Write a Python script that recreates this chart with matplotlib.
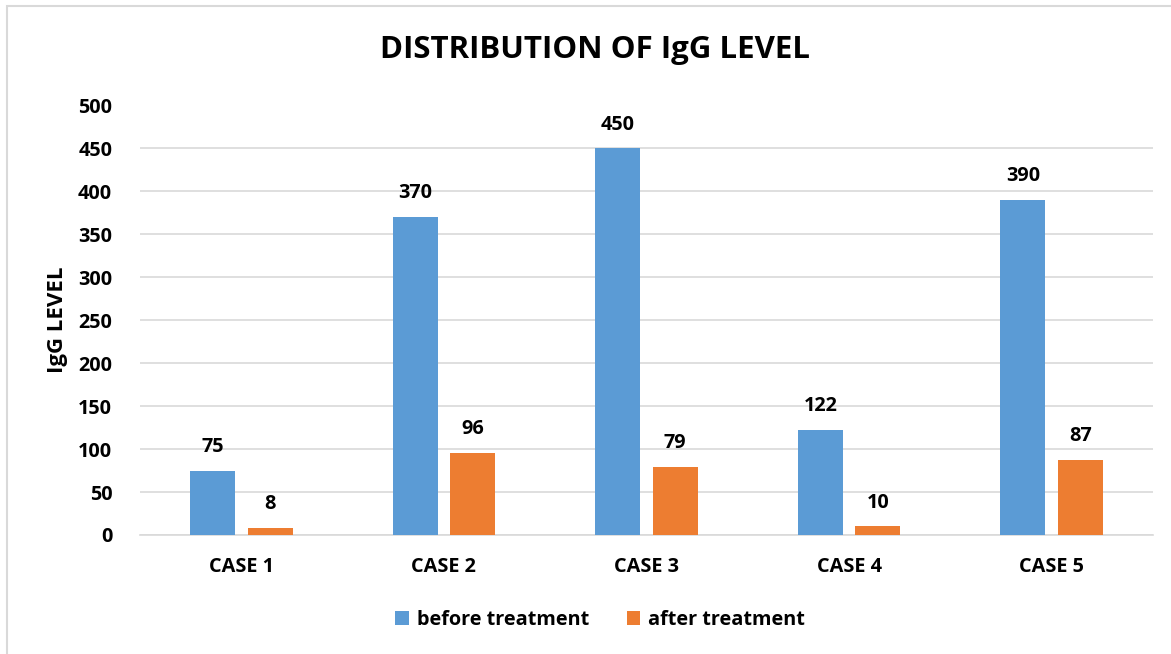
import matplotlib
matplotlib.use("Agg")
import matplotlib.pyplot as plt
import numpy as np
from matplotlib.patches import Rectangle

categories = ["CASE 1", "CASE 2", "CASE 3", "CASE 4", "CASE 5"]
before = [75, 370, 450, 122, 390]
after = [8, 96, 79, 10, 87]
series_names = ["before treatment", "after treatment"]
yticks = [0, 50, 100, 150, 200, 250, 300, 350, 400, 450, 500]

plt.rcParams['font.family'] = ['Open Sans', 'DejaVu Sans']
plt.rcParams['font.weight'] = 'bold'

W, H = 1171, 654
fig = plt.figure(figsize=(W/100, H/100), dpi=100)
fig.patches.append(Rectangle((7/W, -0.1), 1.2, 1 - 6/H + 0.1, transform=fig.transFigure,
                             fill=False, edgecolor='#d9d9d9', linewidth=1.5))

ax = fig.add_axes([140/W, 1 - 535/H, (1153-140)/W, (535-105.5)/H])
x = np.arange(len(categories))
bw = 0.222
off = 0.142
b1 = ax.bar(x - off, before, bw, color='#5b9bd5', label=series_names[0], zorder=3)
b2 = ax.bar(x + off, after, bw, color='#ed7d31', label=series_names[1], zorder=3)
fs = 14.3
ax.bar_label(b1, padding=10, fontsize=fs, fontweight='bold')
ax.bar_label(b2, padding=10, fontsize=fs, fontweight='bold')

ax.set_xlim(-0.5, len(categories) - 0.5)
ax.set_ylim(0, 500)
ax.set_yticks(yticks)
ax.set_xticks(x)
ax.set_xticklabels(categories)
ax.yaxis.grid(True, color='#d9d9d9', linewidth=1.2, zorder=0)
for s in ['top', 'right', 'left']:
    ax.spines[s].set_visible(False)
ax.spines['bottom'].set_color('#d9d9d9')
ax.spines['bottom'].set_linewidth(1.2)
ax.tick_params(axis='both', length=0, labelsize=fs)
ax.tick_params(axis='y', pad=20)
ax.tick_params(axis='x', pad=16)
for lab in ax.get_xticklabels() + ax.get_yticklabels():
    lab.set_fontweight('bold')

fig.text(57/W, 1 - 320/H, "IgG LEVEL", rotation=90, ha='center', va='center',
         fontsize=16, fontweight='bold')
fig.text(595/W, 1 - 50/H, "DISTRIBUTION OF IgG LEVEL", ha='center', va='center',
         fontsize=22.5, fontweight='bold')

fig.legend(handles=[b1, b2], labels=series_names, loc='center', bbox_to_anchor=(600/W, 1 - 620/H),
           ncol=2, frameon=False, handlelength=0.7, handleheight=0.7,
           columnspacing=1.9, handletextpad=0.4, prop={'weight': 'bold', 'size': fs})

fig.savefig("out.png", dpi=100)
